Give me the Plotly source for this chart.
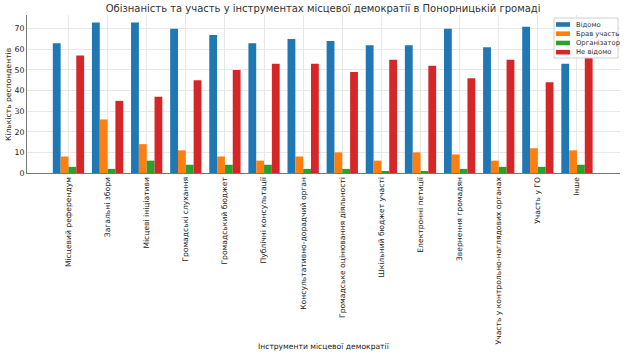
import plotly.graph_objects as go

categories = [
    "Місцевий референдум",
    "Загальні збори",
    "Місцеві ініціативи",
    "Громадські слухання",
    "Громадський бюджет",
    "Публічні консультації",
    "Консультативно-дорадчий орган",
    "Громадське оцінювання діяльності",
    "Шкільний бюджет участі",
    "Електронні петиції",
    "Звернення громадян",
    "Участь у контрольно-наглядових органах",
    "Участь у ГО",
    "Інше",
]
known = [63, 73, 73, 70, 67, 63, 65, 64, 62, 62, 70, 61, 71, 53]
participated = [8, 26, 14, 11, 8, 6, 8, 10, 6, 10, 9, 6, 12, 11]
organizer = [3, 2, 6, 4, 4, 4, 2, 2, 1, 1, 2, 3, 3, 4]
unknown = [57, 35, 37, 45, 50, 53, 53, 49, 55, 52, 46, 55, 44, 56]
yticks = [0, 10, 20, 30, 40, 50, 60, 70]

series = [
    ("Відомо", known, "#1f77b4"),
    ("Брав участь", participated, "#ff7f0e"),
    ("Організатор", organizer, "#2ca02c"),
    ("Не відомо", unknown, "#d62728"),
]

W, H = 625, 355
L, R, T, B = 27, 5, 15, 182
PW, PH = W - L - R, H - T - B

def px_x(px):
    return (px - L) / PW

def px_y(py):
    return (H - B - py) / PH

fig = go.Figure()
for name, vals, color in series:
    fig.add_trace(go.Bar(
        x=list(range(len(categories))), y=vals, name=name,
        marker=dict(color=color, line=dict(width=0)),
        showlegend=False,
    ))

font = "DejaVu Sans"
shapes = []
annotations = []
# legend box (drawn manually to match the compact matplotlib legend)
shapes.append(dict(type="rect", xref="paper", yref="paper",
                   x0=px_x(554), x1=px_x(618), y0=px_y(58), y1=px_y(18),
                   line=dict(color="#d0d0d0", width=1), fillcolor="rgba(255,255,255,0.85)",
                   layer="above"))
row_y = [24.5, 33.7, 43.0, 52.2]
for (name, vals, color), ry in zip(series, row_y):
    shapes.append(dict(type="rect", xref="paper", yref="paper",
                       x0=px_x(556), x1=px_x(570), y0=px_y(ry + 2.3), y1=px_y(ry - 2.3),
                       line=dict(width=0), fillcolor=color, layer="above"))
    annotations.append(dict(text=name, xref="paper", yref="paper",
                            x=px_x(574), y=px_y(ry), xanchor="left", yanchor="middle",
                            showarrow=False, font=dict(family=font, size=6.8, color="#333333")))
# axis titles
annotations.append(dict(text="Інструменти місцевої демократії", xref="paper", yref="paper",
                        x=0.5, y=px_y(346), xanchor="center", yanchor="middle", showarrow=False,
                        font=dict(family=font, size=7.6, color="#222222")))
annotations.append(dict(text="Кількість респондентів", xref="paper", yref="paper",
                        x=px_x(8), y=px_y(94), xanchor="center", yanchor="middle", showarrow=False,
                        textangle=-90, font=dict(family=font, size=7.6, color="#222222")))

fig.update_layout(
    width=W, height=H,
    margin=dict(l=L, r=R, t=T, b=B),
    paper_bgcolor="white", plot_bgcolor="white",
    barmode="group", bargap=0.2, bargroupgap=0,
    font=dict(family=font, size=8, color="#333333"),
    title=dict(text="Обізнаність та участь у інструментах місцевої демократії в Понорницькій громаді",
               x=0.517, xanchor="center", y=1 - 8.5 / H, yanchor="middle",
               font=dict(family=font, size=10.0, color="#333333")),
    showlegend=False,
    shapes=shapes,
    annotations=annotations,
)
fig.update_xaxes(
    tickmode="array", tickvals=list(range(len(categories))), ticktext=categories,
    tickangle=-90, range=[-1.06, 14.1], automargin=False,
    showgrid=True, gridcolor="#e8e8e8", gridwidth=1,
    showline=True, linecolor="#777777", linewidth=1,
    ticks="", ticklen=3, tickfont=dict(size=7.6, color="#222222"),
)
fig.update_yaxes(
    range=[0, 76.65], tickmode="array", tickvals=yticks, automargin=False,
    showgrid=True, gridcolor="#e8e8e8", gridwidth=1, zeroline=False,
    showline=True, linecolor="#777777", linewidth=1,
    ticks="", tickfont=dict(size=7.8, color="#222222"),
)
fig.write_html("out.html", config={"displayModeBar": False},
               post_script="document.body.style.margin='0px';")
